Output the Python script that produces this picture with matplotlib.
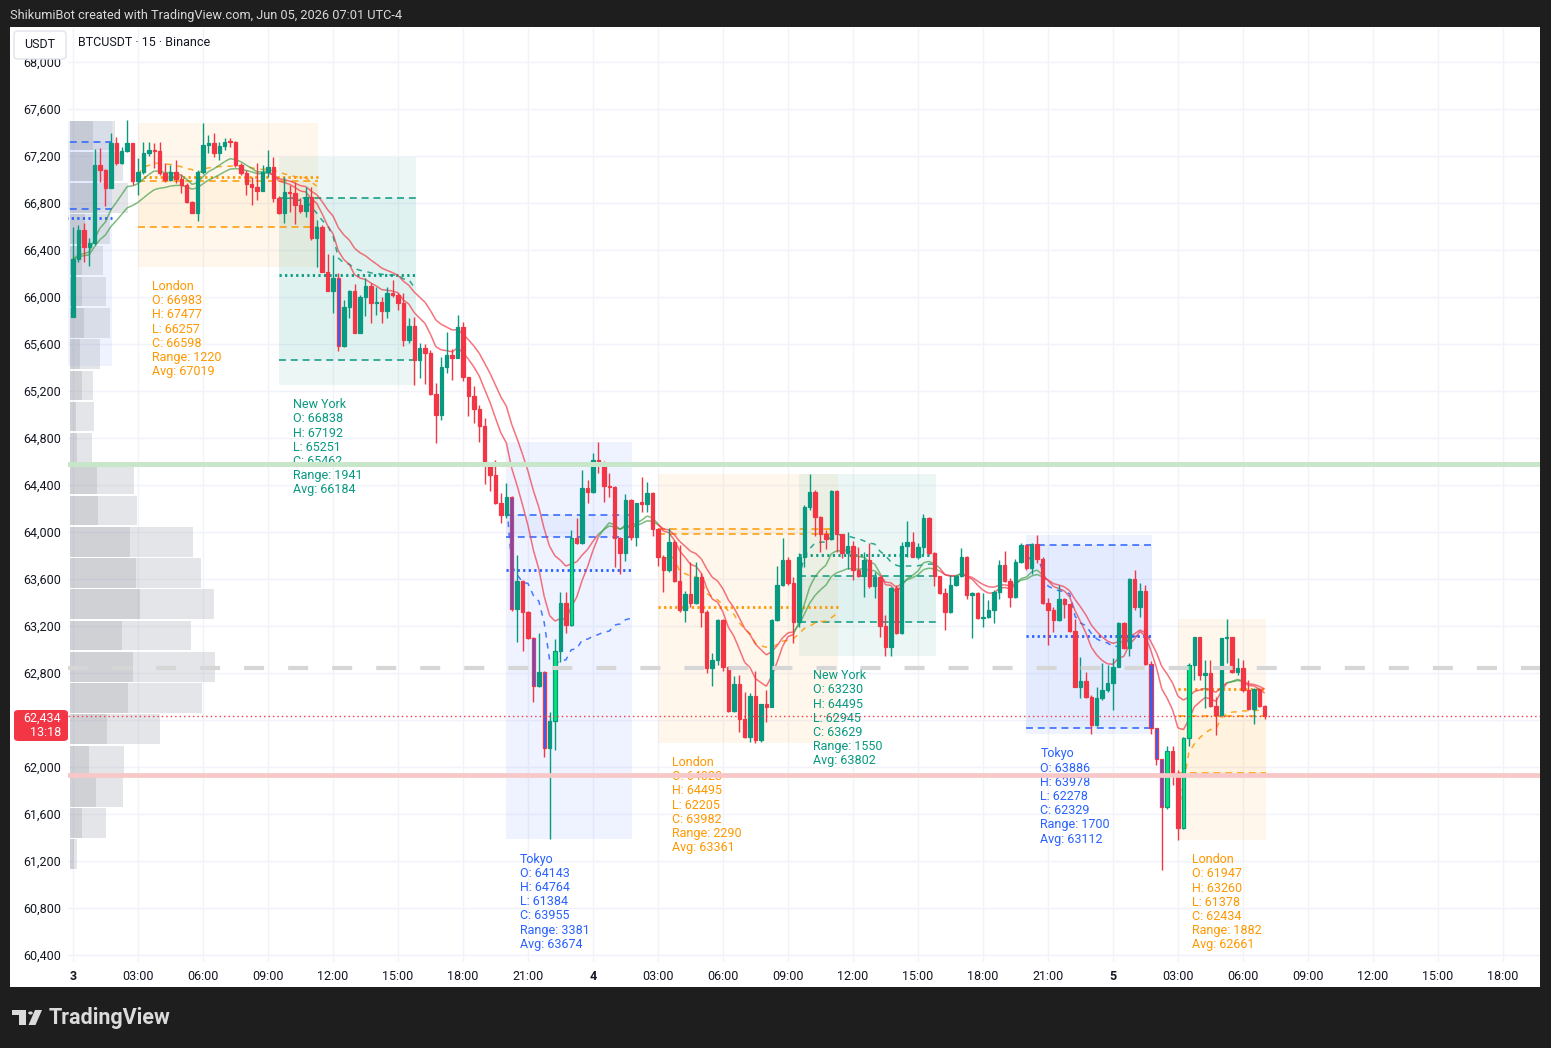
import numpy as np
import pandas as pd
import matplotlib
matplotlib.use("Agg")
import matplotlib.pyplot as plt
from matplotlib.patches import Rectangle, FancyBboxPatch, Polygon, Circle
from matplotlib.collections import LineCollection
from matplotlib import transforms

plt.rcParams['font.family'] = ['Roboto', 'DejaVu Sans']
plt.rcParams['lines.scale_dashes'] = False

# BTCUSDT 15m candles, day 3 00:00 -> day 5 07:00 (UTC-4)
first_open = 65830
closes = [
    66320, 66570, 66428, 66457, 67123, 67081, 66925, 67313, 67143, 67245,
    67308, 66983, 67067, 67222, 67250, 67240, 67052, 66996, 67067, 67001,
    66953, 66811, 66718, 67061, 67294, 67308, 67223, 67285, 67322, 67319,
    67123, 67052, 66962, 66940, 66900, 67067, 67109, 66838, 66718, 66896,
    66882, 66783, 66735, 66854, 66499, 66598, 66215, 66054, 66159, 65583,
    65918, 66054, 65697, 66003, 66094, 65946, 65960, 65884, 66031, 66017,
    65952, 65634, 65753, 65462, 65563, 65526, 65172, 64996, 65401, 65506,
    65480, 65747, 65317, 65153, 65049, 64899, 64586, 64487, 64243, 64143,
    64301, 63342, 63583, 63322, 63095, 62689, 62811, 62159, 62391, 62987,
    63393, 63209, 63946, 63904, 64372, 64338, 64613, 64584, 64392, 64380,
    63946, 63824, 64272, 63955, 64244, 64240, 64329, 64028, 63790, 63677,
    63918, 63586, 63336, 63472, 63399, 63620, 63322, 62840, 62911, 63251,
    62848, 62479, 62706, 62406, 62258, 62604, 62230, 62536, 62513, 63251,
    63549, 63762, 63563, 63230, 63790, 64216, 64343, 64125, 63983, 63938,
    64352, 63982, 63824, 63881, 63680, 63626, 63762, 63540, 63614, 63200,
    63024, 63521, 63138, 63881, 63918, 63790, 63875, 64116, 63818, 63629,
    63484, 63322, 63549, 63626, 63790, 63464, 63478, 63265, 63274, 63336,
    63492, 63719, 63586, 63444, 63748, 63886, 63690, 63898, 63767, 63399,
    63336, 63251, 63427, 63387, 63160, 62684, 62735, 62599, 62357, 62584,
    62655, 62718, 62854, 63223, 63010, 63597, 63364, 63498, 62877, 62329,
    62065, 61662, 62136, 61947, 61478, 62244, 62868, 63103, 62783, 62803,
    62519, 62442, 63095, 63110, 62811, 62840, 62655, 62491, 62661, 62519,
    62434]
highs = [
    66593, 66613, 66627, 66500, 67257, 67265, 67090, 67393, 67359, 67280,
    67506, 67310, 67180, 67322, 67320, 67310, 67322, 67138, 67123, 67166,
    67050, 66970, 66820, 67080, 67477, 67379, 67399, 67322, 67350, 67350,
    67330, 67138, 67080, 67020, 67138, 67123, 67251, 67194, 66860, 67024,
    66953, 66981, 66840, 66939, 66939, 66655, 66613, 66363, 66355, 66207,
    65975, 66060, 66111, 66014, 66159, 66120, 66088, 66003, 66088, 66145,
    66037, 66037, 65818, 65832, 65606, 65600, 65550, 65265, 65487, 65705,
    65560, 65847, 65790, 65320, 65243, 65080, 64974, 64595, 64616, 64332,
    64414, 64310, 63804, 63595, 63330, 63109, 63143, 62820, 62471, 63087,
    63489, 63492, 64017, 64122, 64528, 64443, 64670, 64764, 64600, 64499,
    64390, 63960, 64323, 64280, 64250, 64465, 64428, 64340, 64030, 63800,
    64031, 63930, 63889, 63501, 63748, 63748, 63650, 63340, 62967, 63257,
    63257, 62860, 62774, 62783, 62641, 62627, 62820, 62540, 62655, 63257,
    63711, 63946, 63790, 63620, 63818, 64230, 64495, 64360, 64136, 64017,
    64360, 64360, 63980, 64000, 63920, 63875, 63833, 63904, 63662, 63590,
    63294, 63530, 63550, 63918, 64096, 64003, 63909, 64153, 64130, 63830,
    63625, 63520, 63634, 63634, 63861, 63796, 63485, 63485, 63478, 63421,
    63506, 63762, 63841, 63606, 63767, 63909, 63886, 63909, 63978, 63790,
    63435, 63364, 63549, 63435, 63390, 63257, 62939, 62811, 62610, 62684,
    62882, 62868, 62925, 63230, 63237, 63606, 63677, 63563, 63549, 62900,
    62329, 62065, 62179, 62179, 61974, 62258, 62888, 63109, 63109, 62911,
    62911, 62598, 63100, 63260, 63109, 62925, 62911, 62740, 62670, 62670,
    62530]
lows = [
    65827, 66301, 66301, 66264, 66440, 66981, 66775, 66990, 67123, 67130,
    67235, 66953, 66868, 67050, 67200, 67100, 67040, 66981, 66990, 66967,
    66882, 66803, 66712, 66650, 67050, 67223, 67194, 67166, 67250, 67280,
    67110, 67038, 66868, 66783, 66826, 66925, 67024, 66811, 66706, 66627,
    66726, 66621, 66712, 66684, 66485, 66257, 66210, 66050, 65867, 65540,
    65577, 65818, 65690, 65690, 65838, 65776, 65847, 65776, 65818, 66000,
    65889, 65583, 65611, 65251, 65308, 65260, 65166, 64755, 64953, 65350,
    65290, 65480, 65288, 64989, 64929, 64765, 64407, 64347, 64235, 64078,
    64116, 63330, 63067, 62990, 63090, 62556, 62683, 62088, 61384, 62145,
    62897, 63143, 63200, 63898, 63895, 64244, 64330, 64499, 64258, 64301,
    63705, 63643, 63756, 63930, 63881, 64173, 64173, 63966, 63711, 63492,
    63660, 63577, 63322, 63237, 63365, 63390, 63189, 62797, 62690, 62868,
    62820, 62471, 62470, 62301, 62244, 62210, 62205, 62210, 62386, 62510,
    63240, 63537, 63549, 63052, 63194, 63700, 64187, 63966, 63833, 63852,
    63932, 63833, 63776, 63682, 63592, 63620, 63450, 63520, 63435, 63109,
    62945, 62945, 63131, 63130, 63790, 63784, 63767, 63813, 63813, 63540,
    63470, 63166, 63307, 63540, 63620, 63427, 63095, 63257, 63189, 63265,
    63223, 63427, 63577, 63365, 63435, 63740, 63680, 63643, 63740, 63387,
    63038, 63152, 63245, 63265, 63152, 62680, 62584, 62584, 62278, 62349,
    62570, 62641, 62485, 62850, 63001, 62945, 63336, 63279, 62868, 62278,
    62017, 61123, 61640, 61847, 61378, 61470, 62179, 62740, 62740, 62499,
    62508, 62272, 62434, 62882, 62797, 62783, 62641, 62485, 62366, 62508,
    62405]

# highlighted (vector) candles
up_vector = [89, 92, 202, 205, 206]
down_vector = [49, 81, 85, 87, 199, 200, 201]

# sessions
sess_names = ['Tokyo', 'London', 'New York', 'Tokyo', 'London', 'New York', 'Tokyo', 'London']
sess_start = [-16, 12, 38, 80, 108, 134, 176, 204]
sess_end = [7, 45, 63, 103, 141, 159, 199, 220]
sess_open = [66749, 66983, 66838, 64143, 64028, 63230, 63886, 61947]
sess_high = [67500, 67477, 67192, 64764, 64495, 64495, 63978, 63260]
sess_low = [65413, 66257, 65251, 61384, 62205, 62945, 62278, 61378]
sess_close = [67317, 66598, 65462, 63955, 63982, 63629, 62329, 62434]
sess_range = [2087, 1220, 1941, 3381, 2290, 1550, 1700, 1882]
sess_avg = [66672, 67019, 66184, 63674, 63361, 63802, 63112, 62661]

# horizontal levels
green_level = 64580
pink_level = 61935
grey_level = 62843
last_price = 62434
countdown = '13:18'

# visible range volume profile, rows from bottom to top
vp_bottom = 61124
vp_step = 266
vp_total = [7, 36, 53, 54, 90, 132, 145, 121, 144, 131, 123, 67, 64, 22, 24, 23, 30, 40, 36, 33, 40, 58, 53, 45]
vp_dark = [4, 12, 26, 19, 37, 58, 63, 52, 70, 66, 60, 28, 27, 7, 6, 12, 10, 14, 12, 12, 15, 23, 23, 23]

x_ticks = list(range(0, 265, 12))
x_labels = ['3', '03:00', '06:00', '09:00', '12:00', '15:00', '18:00', '21:00',
            '4', '03:00', '06:00', '09:00', '12:00', '15:00', '18:00', '21:00',
            '5', '03:00', '06:00', '09:00', '12:00', '15:00', '18:00']
y_ticks = list(range(60400, 68001, 400))

sess_colors = {'Tokyo': '#2962ff', 'London': '#ff9800', 'New York': '#089981'}
UP, DOWN = '#089981', '#f23645'

# ---- prep ----
n = len(closes)
idx = np.arange(n)
c = np.array(closes, float)
o = np.array([first_open] + closes[:-1], float)
h = np.maximum(np.array(highs, float), np.maximum(o, c))
l = np.minimum(np.array(lows, float), np.minimum(o, c))

W, H = 1551, 1048
fig = plt.figure(figsize=(W / 100, H / 100), dpi=100)
fig.patch.set_facecolor('#1e1e1e')


def fx(px):
    return px / W


def fy(py):
    return 1 - py / H


fig.add_artist(Rectangle((fx(10), fy(987)), fx(1540) - fx(10), fy(27) - fy(987),
                         transform=fig.transFigure, facecolor='white', edgecolor='none', zorder=-5))

ax = fig.add_axes([fx(68), fy(962), fx(1540) - fx(68), fy(28) - fy(962)])
ax.set_facecolor('none')
for sp in ax.spines.values():
    sp.set_visible(False)

# session boxes
for k, name in enumerate(sess_names):
    col = sess_colors[name]
    x0, x1 = sess_start[k], sess_end[k] + 0.25
    ax.add_patch(Rectangle((x0, sess_low[k]), x1 - x0, sess_high[k] - sess_low[k],
                           facecolor=col, alpha=0.075, edgecolor='none', zorder=1))
    lo, hi = sorted([sess_open[k], sess_close[k]])
    ax.add_patch(Rectangle((x0, lo), x1 - x0, hi - lo, facecolor=col, alpha=0.05,
                           edgecolor='none', zorder=1))
    for v in (sess_open[k], sess_close[k]):
        ax.plot([x0, x1], [v, v], color=col, lw=1.1, dashes=(5, 3.5), zorder=2)
    ax.plot([x0, x1], [sess_avg[k], sess_avg[k]], color=col, lw=2, dashes=(1.6, 2.4), zorder=2)

    # running session average (range weighted), dashed curve
    if sess_start[k] >= 0:
        sl = slice(sess_start[k], sess_end[k] + 1)
        tp = (h[sl] + l[sl] + c[sl]) / 3
        w = (h[sl] - l[sl]) ** 2 + 1
        vw = np.cumsum(tp * w) / np.cumsum(w)
        ax.plot(idx[sl], vw, color=col, lw=1.1, dashes=(4, 4), alpha=0.85, zorder=2.5)

        txt = '\n'.join([name, f'O: {sess_open[k]}', f'H: {sess_high[k]}', f'L: {sess_low[k]}',
                         f'C: {sess_close[k]}', f'Range: {sess_range[k]}', f'Avg: {sess_avg[k]}'])
        ax.annotate(txt, xy=(sess_start[k], sess_low[k]), xytext=(10, -9.5), textcoords='offset points',
                    ha='left', va='top', fontsize=9, color=col, linespacing=1.12, zorder=4,
                    annotation_clip=False)

# volume profile on the left edge
vp_trans = transforms.blended_transform_factory(
    transforms.Affine2D().scale(1 / 1472.0, 1) + ax.transAxes, ax.transData)
for k in range(len(vp_total)):
    y0 = vp_bottom + k * vp_step + 7
    ax.add_patch(Rectangle((2, y0), vp_total[k], vp_step - 14, transform=vp_trans,
                           facecolor='#b2b5be', alpha=0.35, edgecolor='none', zorder=1.5))
    ax.add_patch(Rectangle((2, y0), vp_dark[k], vp_step - 14, transform=vp_trans,
                           facecolor='#787b86', alpha=0.19, edgecolor='none', zorder=1.6))

# fast / slow EMA, green when fast above slow
ema_f = pd.Series(c).ewm(span=12, adjust=False).mean().values
ema_s = pd.Series(c).ewm(span=21, adjust=False).mean().values
bull = ema_f > ema_s
seg_cols = ['#43a047' if bull[i] else '#f23645' for i in range(1, n)]
for line in (ema_f, ema_s):
    segs = [[(i - 1, line[i - 1]), (i, line[i])] for i in range(1, n)]
    ax.add_collection(LineCollection(segs, colors=seg_cols, linewidths=1.1, alpha=0.7, zorder=3))

# candles
up = c >= o
wick_cols = [UP if u else DOWN for u in up]
ax.vlines(idx, l, h, colors=wick_cols, lw=1, zorder=4)
body_h = np.maximum(np.abs(c - o), 12)
face = []
edge = []
for i in range(n):
    if i in down_vector:
        face.append('#2962ff'); edge.append(DOWN)
    elif i in up_vector:
        face.append('#00e676'); edge.append(UP)
    else:
        face.append(wick_cols[i]); edge.append(wick_cols[i])
ax.bar(idx, body_h, bottom=np.minimum(o, c), width=0.64, color=face, edgecolor=edge,
       linewidth=0.9, zorder=4.5)

# levels
ax.axhline(green_level, color='#c8e6c9', lw=3.6, zorder=6)
ax.axhline(pink_level, color='#f8c8c8', lw=3.4, zorder=6)
ax.axhline(grey_level, color='#d6d6d6', lw=3.0, dashes=(14.4, 17.3), zorder=6)
ax.axhline(last_price, color=DOWN, lw=1, dashes=(1, 2.2), zorder=6)

ax.set_xlim(-0.92, 270.83)
ax.set_ylim(60340, 68289)
ax.set_xticks(x_ticks)
ax.set_xticklabels(x_labels)
ax.set_yticks(y_ticks)
# the 62,400 label sits under the last price tag
ax.set_yticklabels(['' if abs(v - last_price) < 100 else f'{v:,}' for v in y_ticks])
ax.tick_params(axis='both', length=0, labelsize=9, labelcolor='#131722')
ax.tick_params(axis='y', pad=5)
ax.tick_params(axis='x', pad=5.5)
for t in ax.get_xticklabels():
    if t.get_text() in ('3', '4', '5'):
        t.set_fontweight('bold')
ax.grid(color='#f0f3fa', lw=1)
ax.set_axisbelow(True)

# header / legend
fig.text(fx(10), fy(15), 'ShikumiBot created with TradingView.com, Jun 05, 2026 07:01 UTC-4',
         color='#d9d9d9', fontsize=9.2, va='center', ha='left')
fig.add_artist(FancyBboxPatch((fx(14), fy(59)), fx(66) - fx(14), fy(31) - fy(59),
                              boxstyle='round,pad=0,rounding_size=0.003', transform=fig.transFigure,
                              facecolor='white', edgecolor='#e0e3eb', lw=1, zorder=5))
fig.text(fx(40), fy(44), 'USDT', color='#131722', fontsize=9, ha='center', va='center', zorder=6)
fig.text(fx(78), fy(43), 'BTCUSDT · 15 · Binance', color='#131722', fontsize=9, ha='left',
         va='center', zorder=6)

# last price tag
fig.add_artist(FancyBboxPatch((fx(14), fy(741)), fx(68) - fx(14), fy(710) - fy(741),
                              boxstyle='round,pad=0,rounding_size=0.003', transform=fig.transFigure,
                              facecolor=DOWN, edgecolor='none', zorder=5))
fig.text(fx(61), fy(718), f'{last_price:,}', color='white', fontsize=9, ha='right', va='center', zorder=6)
fig.text(fx(61), fy(732), countdown, color='white', fontsize=9, ha='right', va='center', zorder=6)

# TradingView logo
logo = '#dbdbdb'
fig.add_artist(Rectangle((fx(12), fy(1015)), fx(26) - fx(12), fy(1010) - fy(1015),
                         transform=fig.transFigure, facecolor=logo, edgecolor='none'))
fig.add_artist(Rectangle((fx(18.5), fy(1025)), fx(26) - fx(18.5), fy(1010) - fy(1025),
                         transform=fig.transFigure, facecolor=logo, edgecolor='none'))
fig.add_artist(Circle((fx(30.5), fy(1013)), 2.3 / W, transform=fig.transFigure,
                      facecolor=logo, edgecolor='none'))
fig.add_artist(Polygon([(fx(35), fy(1010)), (fx(42), fy(1010)), (fx(35.5), fy(1025)), (fx(28.5), fy(1025))],
                       closed=True, transform=fig.transFigure, facecolor=logo, edgecolor='none'))
fig.text(fx(49), fy(1018), 'TradingView', color=logo, fontsize=15.5, fontweight='bold',
         ha='left', va='center')

fig.savefig('out.png', dpi=100, facecolor=fig.get_facecolor())
